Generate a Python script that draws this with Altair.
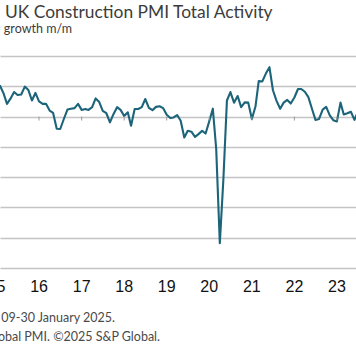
import altair as alt
import pandas as pd

# ---- data -------------------------------------------------------------
title_text = "UK Construction PMI Total Activity"
subtitle_text = "Index, sa, >50 = growth m/m"
footer_1 = "Data were collected 09-30 January 2025."
footer_2 = "Sources: S&P Global PMI. ©2025 S&P Global."

pmi_2015 = [59.1, 60.1, 57.8, 54.2, 55.9, 58.1, 57.1, 57.3, 59.9, 58.8, 55.3, 57.8]
pmi_2016 = [55.0, 54.2, 54.2, 52.0, 51.2, 46.0, 45.9, 49.2, 52.3, 52.6, 52.8, 54.2]
pmi_2017 = [52.2, 52.5, 52.2, 53.1, 56.0, 54.8, 51.9, 51.1, 48.1, 50.8, 53.1, 52.2]
pmi_2018 = [50.2, 51.4, 47.0, 52.5, 52.5, 53.1, 55.8, 52.9, 52.1, 53.2, 53.4, 52.8]
pmi_2019 = [50.6, 49.5, 49.7, 50.5, 48.6, 43.1, 45.3, 45.0, 43.3, 44.2, 45.3, 44.4]
pmi_2020 = [48.4, 52.6, 39.3, 8.2, 28.9, 55.3, 58.1, 54.6, 56.8, 53.1, 54.7, 54.6]
pmi_2021 = [49.2, 53.3, 61.7, 61.6, 64.2, 66.3, 58.7, 55.2, 52.6, 54.6, 55.5, 54.3]
pmi_2022 = [56.3, 59.1, 59.1, 58.2, 56.4, 52.6, 48.9, 49.2, 52.3, 53.2, 50.4, 48.8]
pmi_2023 = [48.4, 54.6, 50.7, 51.1, 51.6, 48.9, 51.7, 50.8, 45.0, 45.6, 45.5, 46.8]

years = [2015, 2016, 2017, 2018, 2019, 2020, 2021, 2022, 2023]
year_values = [pmi_2015, pmi_2016, pmi_2017, pmi_2018, pmi_2019,
               pmi_2020, pmi_2021, pmi_2022, pmi_2023]

tick_years = list(range(2015, 2025))
grid_values = [0, 10, 20, 30, 40, 50, 60, 70]
crossing_value = 50

# ---- tables -----------------------------------------------------------
rows = []
for yr, vals in zip(years, year_values):
    for m, v in enumerate(vals):
        rows.append({"date": f"{yr}-{m + 1:02d}-01", "value": v})
df = pd.DataFrame(rows)

ticks_df = pd.DataFrame({
    "date": [f"{y}-01-01" for y in tick_years],
    "label": [str(y)[2:] for y in tick_years],
    "top": [crossing_value] * len(tick_years),
    "bottom": [crossing_value - 1.3] * len(tick_years),
})
grid_df = pd.DataFrame({"v": grid_values})

x_scale = alt.Scale(domain=["2015-01-31", "2023-06-14"])
y_scale = alt.Scale(domain=[0, 70], nice=False, zero=False)

LINE_COLOR = "#1c6479"
GRID_COLOR = "#c4c4c4"
TEXT_FONT = "Lato"
LABEL_FONT = "Liberation Sans Narrow, Liberation Sans, Arial"

line = alt.Chart(df).mark_line(
    color=LINE_COLOR, strokeWidth=2.1, clip=True, strokeJoin="round"
).encode(
    x=alt.X("date:T", scale=x_scale, axis=None),
    y=alt.Y(
        "value:Q",
        scale=y_scale,
        axis=alt.Axis(
            values=grid_values, grid=True, labels=False, ticks=False,
            domain=False, title=None, gridColor=GRID_COLOR, gridWidth=1.3,
            tickCount=8, labelOverlap=False,
        ),
    ),
)

tick_marks = alt.Chart(ticks_df).mark_rule(
    color="#9a9a9a", strokeWidth=1, clip=True
).encode(
    x=alt.X("date:T", scale=x_scale, axis=None),
    y=alt.Y("top:Q", scale=y_scale),
    y2="bottom:Q",
)

year_labels = alt.Chart(ticks_df).mark_text(
    font=LABEL_FONT, fontSize=16, color="#111111", align="center",
    baseline="alphabetic",
).encode(
    x=alt.X("date:T", scale=x_scale, axis=None),
    y=alt.value(236),
    text="label:N",
)

def text_layer(txt, x, y, size, color, align="left"):
    return alt.Chart(pd.DataFrame({"t": [txt]})).mark_text(
        font=TEXT_FONT, fontSize=size, color=color, align=align,
        baseline="alphabetic",
    ).encode(x=alt.value(x), y=alt.value(y), text="t:N")

title = text_layer(title_text, 5, -38, 17.4, "#3c3c3c")
subtitle = text_layer(subtitle_text, 72, -23, 12.5, "#3c3c3c", align="right")
foot1 = text_layer(footer_1, 115, 266, 12.5, "#4a4a4a", align="right")
foot2 = text_layer(footer_2, 160, 285, 12.5, "#4a4a4a", align="right")

chart = alt.layer(
    line, tick_marks, year_labels, title, subtitle, foot1, foot2
).properties(
    width=356,
    height=212,
    padding={"left": 0, "top": 56, "right": 0, "bottom": 82},
    autosize=alt.AutoSizeParams(type="none"),
    background="white",
).configure_view(strokeWidth=0)

chart.save("out.html", embed_options={"renderer": "svg", "actions": False})
